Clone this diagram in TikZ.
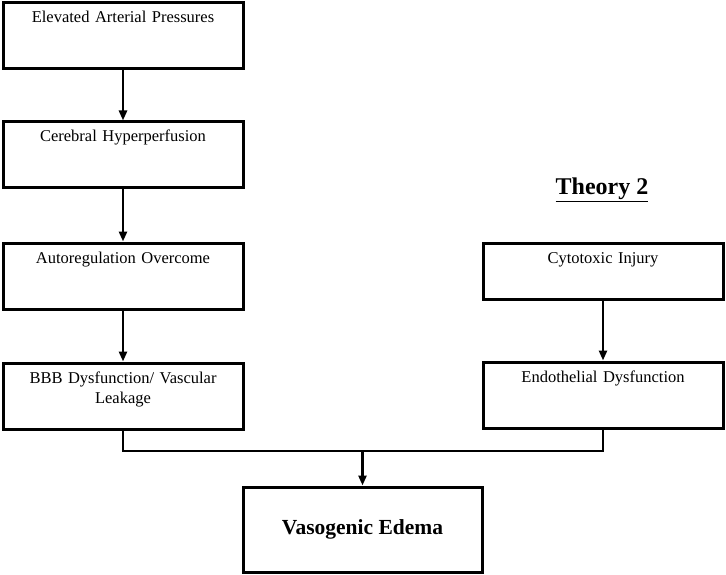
\documentclass[tikz,border=0pt]{standalone}
\usepackage{fontspec}
\setmainfont{Liberation Serif}
\usepackage{xcolor}
\usepackage{tikz}
\usetikzlibrary{arrows.meta,positioning}
\definecolor{ink}{HTML}{000000}
\tikzset{
  box/.style={draw=ink, line width=3pt, text width=222pt, align=center,
    inner xsep=9pt, inner ysep=9pt, text height=11pt, text depth=37pt,
    font=\fontsize{16.5}{20}\selectfont},
  boxR/.style={box, text depth=27pt},
  boxE/.style={draw=ink, line width=3pt, minimum width=239pt, minimum height=85pt,
    font=\bfseries\fontsize{21.5}{24}\selectfont},
  link/.style={draw=ink, line width=2.5pt},
  arr/.style={link, -{Triangle[length=10pt,width=8pt]}},
  head/.style={text=ink, font=\bfseries\fontsize{24}{28}\selectfont}
}
\begin{document}
\begin{tikzpicture}[x=1pt, y=1pt]
  \useasboundingbox (0,0) rectangle (726,-575);
  % left chain
  \node[box] (elev) at (123,-36) {Elevated Arterial Pressures};
  \node[box, below=50pt of elev] (hyper) {Cerebral Hyperperfusion};
  \node[box, below=52pt of hyper] (auto) {Autoregulation Overcome};
  \node[box, below=51pt of auto] (bbb) {BBB Dysfunction/ Vascular\\Leakage};
  % theory 2
  \node[head] (theory) at (602,-190) {\underline{Theory 2}};
  \node[boxR] (cyto) at (603,-271) {Cytotoxic Injury};
  \node[box, below=60pt of cyto] (endo) {Endothelial Dysfunction};
  % result
  \node[boxE] (vaso) at (362.5,-529.5) {Vasogenic Edema};
  \coordinate (jn) at (362.5,-451);
  \draw[arr] (elev) -- (hyper);
  \draw[arr] (hyper) -- (auto);
  \draw[arr] (auto) -- (bbb);
  \draw[arr] (cyto) -- (endo);
  \draw[link] (bbb.south) |- (jn) -| (endo.south);
  \draw[arr] (jn) -- (vaso);
\end{tikzpicture}
\end{document}
